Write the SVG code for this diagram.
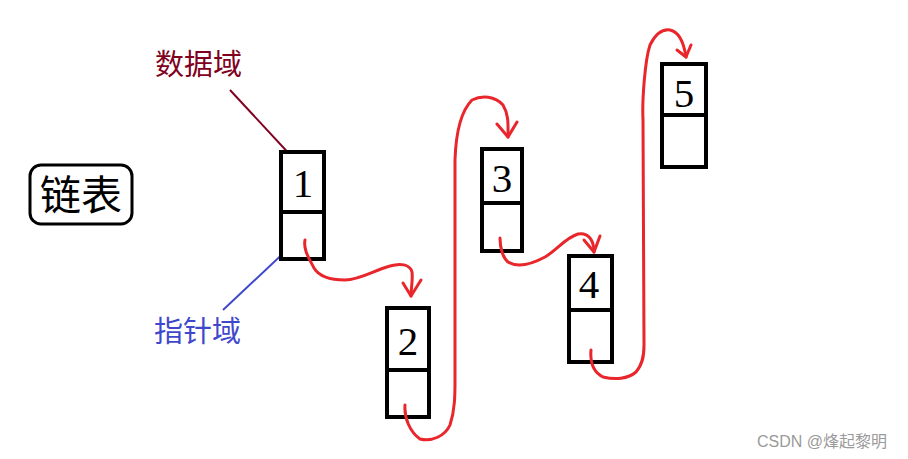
<svg xmlns="http://www.w3.org/2000/svg" width="908" height="459" viewBox="0 0 908 459">
<style>
.box{fill:#fff;stroke:#000;stroke-width:4}
.div{stroke:#000;stroke-width:4}
.num{font-family:"Liberation Serif",serif;font-size:41px;fill:#000;text-anchor:middle}
.link{fill:none;stroke:#e8262b;stroke-width:3;stroke-linecap:round;stroke-linejoin:round}
.cjk{font-family:"Noto Sans CJK SC",sans-serif}
</style>
<rect width="908" height="459" fill="#fff"/>
<g id="title">
<rect x="30" y="165" width="102" height="59" rx="11" fill="#fff" stroke="#000" stroke-width="3"/>
<text x="81" y="210" class="cjk" font-size="41" text-anchor="middle" fill="#000">链表</text>
</g>
<g id="label-data">
<text x="155" y="75" class="cjk" font-size="29" fill="#800020">数据域</text>
<line x1="230" y1="90" x2="294" y2="159" stroke="#800020" stroke-width="2"/>
</g>
<g id="label-pointer">
<text x="154" y="342" class="cjk" font-size="29" fill="#3f48cc">指针域</text>
<line x1="290" y1="247" x2="223" y2="310" stroke="#3f48cc" stroke-width="2"/>
</g>
<g id="node1">
<rect class="box" x="281" y="152" width="43" height="107"/>
<line class="div" x1="281" y1="212" x2="324" y2="212"/>
<text class="num" x="303" y="197">1</text>
</g>
<g id="node2">
<rect class="box" x="387" y="308" width="42" height="109"/>
<line class="div" x1="387" y1="370" x2="429" y2="370"/>
<text class="num" x="408" y="355">2</text>
</g>
<g id="node3">
<rect class="box" x="482" y="149" width="40" height="102"/>
<line class="div" x1="482" y1="203" x2="522" y2="203"/>
<text class="num" x="502" y="192">3</text>
</g>
<g id="node4">
<rect class="box" x="569" y="256" width="43" height="106"/>
<line class="div" x1="569" y1="310" x2="612" y2="310"/>
<text class="num" x="589" y="298">4</text>
</g>
<g id="node5">
<rect class="box" x="662" y="64" width="44" height="103"/>
<line class="div" x1="662" y1="115" x2="706" y2="115"/>
<text class="num" x="684" y="107">5</text>
</g>
<g id="connectors">
<path class="link" d="M305,240 C303,250 310,260 314,268 C320,278 332,280 345,280 C360,280 375,270 390,266 C400,263 410,264 412,272 C413,280 411,288 411,296"/>
<path class="link" d="M403,283 L411,296 L421,280"/>
<path class="link" d="M405,405 C404,418 410,432 420,439 C432,442 445,436 450,425 C455,410 455,395 455,380 L455,160 C456,130 462,110 472,100 C482,95 495,96 503,105 C509,115 508,125 508,137"/>
<path class="link" d="M497,124 L508,137 L517,122"/>
<path class="link" d="M500,238 C500,248 503,258 508,262 C518,268 532,264 545,257 C557,250 565,238 578,234 C588,232 594,240 594,252"/>
<path class="link" d="M584,240 L594,252 L600,236"/>
<path class="link" d="M591,350 C590,362 593,372 603,377 C615,380 628,379 636,372 C643,364 644,355 644,345 L643,120 C642,100 645,60 650,45 C656,33 663,29 670,30 C680,32 684,44 686,57"/>
<path class="link" d="M677,50 L686,57 L691,45"/>
</g>
<g id="watermark">
<text x="757" y="447" font-family="Liberation Sans, Noto Sans CJK SC, sans-serif" font-size="16" fill="#9a9a9a">CSDN @烽起黎明</text>
</g>
</svg>
